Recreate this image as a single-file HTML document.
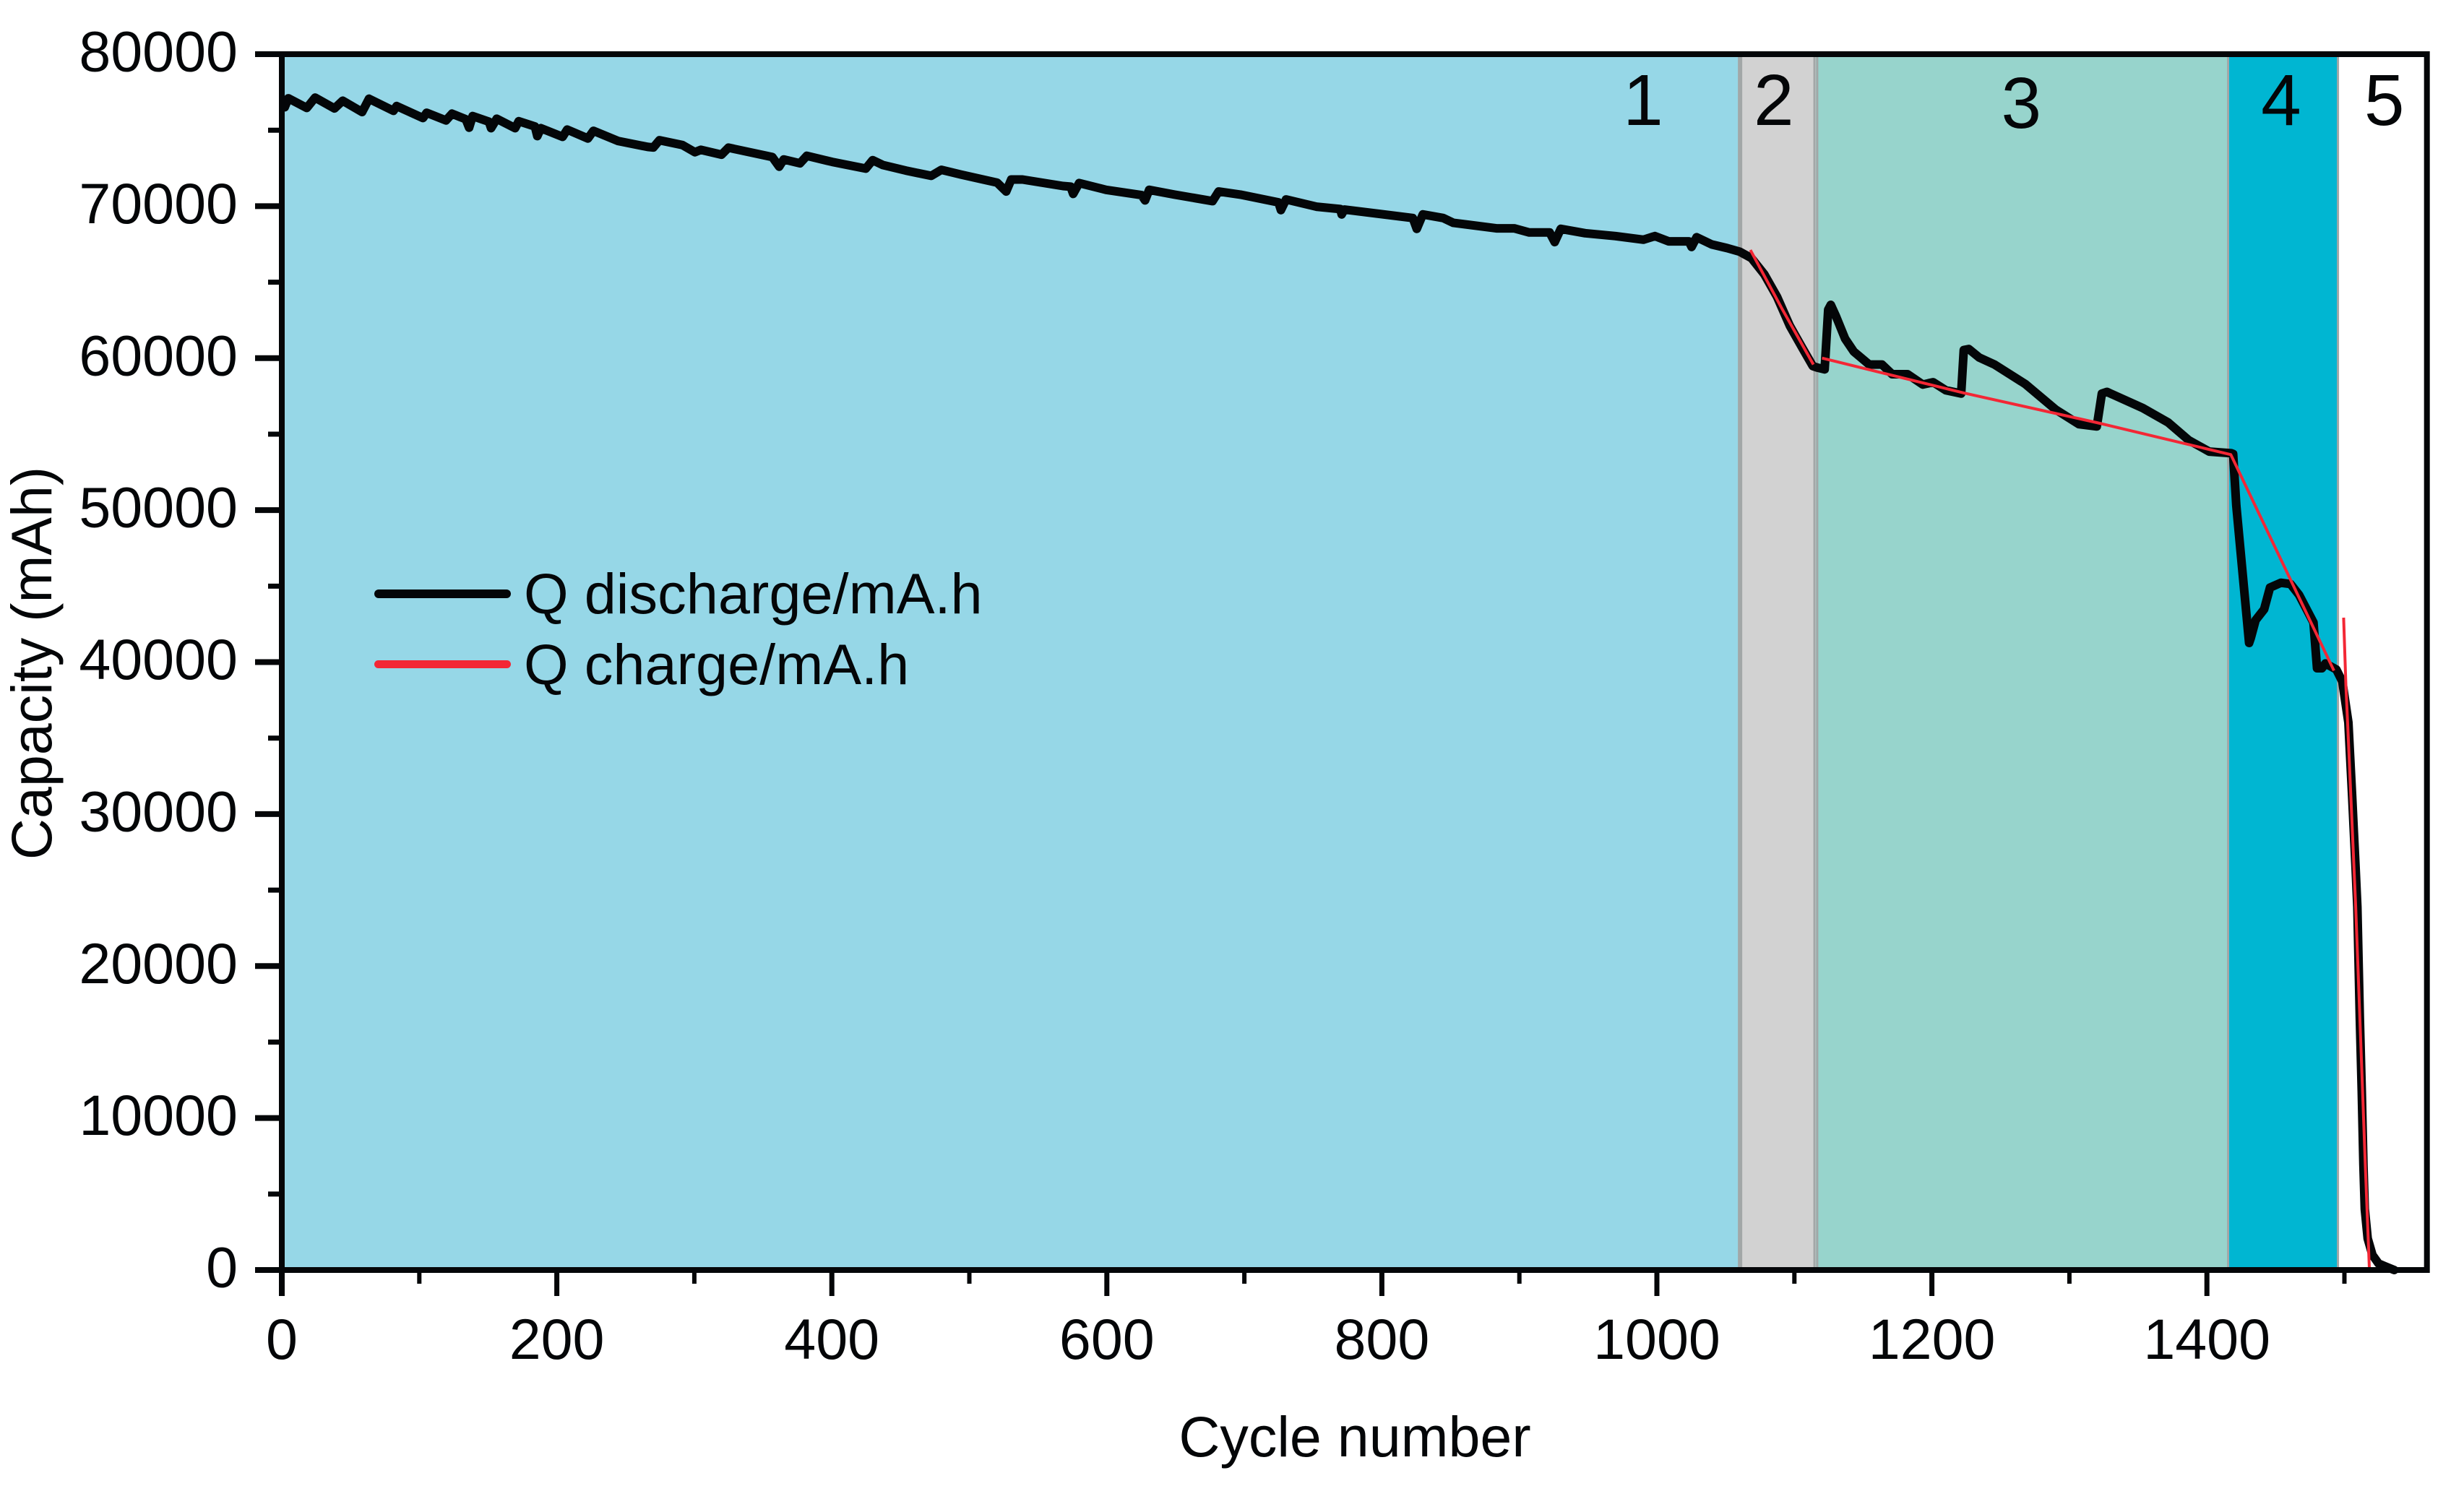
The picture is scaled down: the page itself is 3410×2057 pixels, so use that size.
<!DOCTYPE html>
<html>
<head>
<meta charset="utf-8">
<title>Capacity vs cycle number</title>
<style>
html,body{margin:0;padding:0;background:#fff;}
svg{display:block;}
text{font-family:"Liberation Sans",sans-serif;fill:#040608;}
</style>
</head>
<body>
<svg id="chart" xmlns="http://www.w3.org/2000/svg" width="3410" height="2057" viewBox="0 0 3410 2057">
  <g id="bands"></g>
  <g id="series"></g>
  <g id="axes"></g>
  <g id="region-labels"></g>
  <text x="1875" y="2016" font-size="79" text-anchor="middle">Cycle number</text>
  <text transform="translate(71 918) rotate(-90)" font-size="79" text-anchor="middle">Capacity (mAh)</text>
  <g>
    <line x1="524" y1="822" x2="701" y2="822" stroke="#040608" stroke-width="12" stroke-linecap="round"/>
    <text x="725" y="849" font-size="79.3">Q discharge/mA.h</text>
    <line x1="523.5" y1="919.5" x2="701.5" y2="919.5" stroke="#F32735" stroke-width="11" stroke-linecap="round"/>
    <text x="725" y="947" font-size="79.3">Q charge/mA.h</text>
  </g>
</svg>
<script>
const xMajorTicks = [0, 200, 400, 600, 800, 1000, 1200, 1400];
const xMinorTicks = [100, 300, 500, 700, 900, 1100, 1300, 1500];
const yMajorTicks = [0, 10000, 20000, 30000, 40000, 50000, 60000, 70000, 80000];
const yMinorTicks = [5000, 15000, 25000, 35000, 45000, 55000, 65000, 75000];
const bandEdges = [0, 1060.5, 1115.6, 1415.4, 1495.3];
const bandColors = ['#96D7E7', '#D2D2D2', '#97D4CC', '#00B6D2'];
const borderCycles = [1060.5, 1114.6, 1116.6, 1415.4, 1495.3];
const regionNames = ['1', '2', '3', '4', '5'];
const regionCycles = [990, 1085, 1265, 1454, 1529];

const dischargeCycles = [2.1,4.8,18.2,24.2,38.3,44.3,58.4,63.4,81.2,83.5,102.7,105.3,119.4,123.8,133.8,136.2,138.8,150.6,152.2,156.3,169.7,172.3,184.1,185.8,188.4,204.2,207.5,222.6,226.6,244.4,266.2,270.2,274.6,291.3,300.4,304.7,319.8,324.8,356.7,361.7,365,376.8,381.8,400.2,424.7,429.7,437.1,453.8,472.3,479.6,494,520.2,526.8,530.5,538.6,568.1,573.6,575.5,579.9,599.4,625.2,627.8,630.8,649.2,676.9,681.3,697.1,724.8,726.6,730.3,752.4,769.7,770.8,772.7,822.5,825.4,829.8,844.6,851.9,883.3,896.2,907.2,922,925.7,930.1,947.8,969.9,990.2,998.6,1008.6,1023.3,1025.2,1028.9,1039.9,1051,1060.2,1068.8,1078.1,1087.4,1096.7,1106,1113.4,1117.2,1122,1124.6,1126.5,1130.2,1136.9,1143.2,1154.4,1163.7,1171.1,1182.3,1193.4,1200.9,1210.2,1221.3,1223.2,1226.9,1234.3,1245.5,1267.8,1290.1,1306.9,1319.9,1323.6,1327.3,1353.4,1371.9,1386.9,1401.7,1417.7,1419.1,1421.4,1430.7,1431.9,1435.4,1441.6,1445.9,1453.8,1460.8,1467,1477.5,1480.1,1483.6,1486.2,1494.1,1498.5,1502.9,1505.6,1508.2,1509.4,1511.2,1512.6,1513.8,1514.8,1516.9,1520.4,1524.8,1529.2,1536.2];
const dischargeCapacity = [76510,77096,76463,77144,76431,76938,76193,77065,76273,76589,75797,76146,75639,76083,75718,75164,75924,75560,75132,75750,75132,75591,75243,74609,75132,74562,75037,74451,74958,74293,73897,73865,74340,74023,73548,73707,73390,73849,73231,72598,73073,72819,73310,72914,72471,73025,72709,72344,71996,72392,72075,71549,70963,71755,71755,71327,71280,70805,71518,71074,70726,70377,71074,70757,70330,70963,70757,70250,69743,70440,69965,69807,69459,69775,69221,68508,69458,69221,68904,68540,68540,68270,68270,67637,68508,68223,68033,67795,68033,67684,67684,67320,67954,67478,67241,67003,66582,65521,64036,62126,60640,59473,59367,59260,63187,63505,62762,61277,60428,59579,59579,58943,58943,58264,58413,57882,57670,60535,60598,60046,59579,58306,56608,55654,55506,57670,57776,56714,55760,54593,53850,53744,53694,50288,41259,41576,42764,43477,44902,45219,45140,44427,42606,39596,39596,39912,39516,38724,36028,31178,26328,23903,16628,11778,6928,4018,2078,987,429,259,0];

const chargeCycles = [1068,1091.1,1113.8,null,1120.1,1223.2,1319.9,1371.5,1417.4,1492.4,null,1499.4,1501.1,1502.3,1504.7,1508.2,1511.7,1515.2,1518.2];
const chargeCapacity = [67112,63229,59578,null,60004,57712,55759,54644,53650,39438,null,42922,38408,36028,31178,23903,15416,6928,0];

const SVG_NS = 'http://www.w3.org/2000/svg';
const xScale = v => 390 + v * 1.903;
const yScale = v => 1758 - v * 0.0210375;
const plotLeft = xScale(0);
const plotRight = xScale(1560);
const plotTop = yScale(80000);
const plotBottom = yScale(0);

function make(tag, attrs, parent) {
  const el = document.createElementNS(SVG_NS, tag);
  for (const k in attrs) el.setAttribute(k, attrs[k]);
  parent.appendChild(el);
  return el;
}

const bandsGroup = document.getElementById('bands');
bandColors.forEach((color, i) => {
  const x0 = xScale(bandEdges[i]);
  const x1 = xScale(bandEdges[i + 1]);
  const band = make('rect', {x: x0, y: plotTop, width: x1 - x0, height: plotBottom - plotTop, fill: color}, bandsGroup);
  
  
});
borderCycles.forEach((c, i) => {
  const border = make('line', {x1: xScale(c), x2: xScale(c), y1: plotTop, y2: plotBottom, stroke: '#A2A7A7', 'stroke-width': i === 0 ? 6 : 3}, bandsGroup);
  
  
});

function pathFrom(xs, ys) {
  let d = '';
  let pen = false;
  xs.forEach((x, i) => {
    if (x === null || ys[i] === null) { pen = false; return; }
    d += (pen ? 'L' : 'M') + xScale(x).toFixed(1) + ' ' + yScale(ys[i]).toFixed(1);
    pen = true;
  });
  return d;
}

const seriesGroup = document.getElementById('series');
const dischargeLine = make('path', {d: pathFrom(dischargeCycles, dischargeCapacity), fill: 'none', stroke: '#040608', 'stroke-width': 12, 'stroke-linejoin': 'round', 'stroke-linecap': 'round'}, seriesGroup);


const chargeLine = make('path', {d: pathFrom(chargeCycles, chargeCapacity), fill: 'none', stroke: '#F32735', 'stroke-width': 4, 'stroke-linejoin': 'round'}, seriesGroup);



const axesGroup = document.getElementById('axes');
yMajorTicks.forEach(v => {
  const tick = make('line', {x1: 353, x2: plotLeft, y1: yScale(v), y2: yScale(v), stroke: '#040608', 'stroke-width': 8}, axesGroup);
  
  
  const label = make('text', {x: 329, y: yScale(v) + 23.5, 'font-size': 79, 'text-anchor': 'end'}, axesGroup);
  
  
  label.textContent = String(v);
});
yMinorTicks.forEach(v => {
  const tick = make('line', {x1: 371, x2: plotLeft, y1: yScale(v), y2: yScale(v), stroke: '#040608', 'stroke-width': 7}, axesGroup);
  
  
});
xMajorTicks.forEach(v => {
  const tick = make('line', {x1: xScale(v), x2: xScale(v), y1: plotBottom, y2: 1794, stroke: '#040608', 'stroke-width': v === 0 ? 8 : 7}, axesGroup);
  
  
  const label = make('text', {x: xScale(v), y: 1881, 'font-size': 79, 'text-anchor': 'middle'}, axesGroup);
  
  
  label.textContent = String(v);
});
xMinorTicks.forEach(v => {
  const tick = make('line', {x1: xScale(v), x2: xScale(v), y1: plotBottom, y2: 1777, stroke: '#040608', 'stroke-width': 6}, axesGroup);
  
  
});
const frame = make('rect', {x: plotLeft, y: plotTop, width: plotRight - plotLeft, height: plotBottom - plotTop, fill: 'none', stroke: '#040608', 'stroke-width': 8}, axesGroup);



const labelsGroup = document.getElementById('region-labels');
regionNames.forEach((name, i) => {
  const label = make('text', {x: xScale(regionCycles[i]), y: i === 2 ? 177 : 173, 'font-size': 100, 'text-anchor': 'middle'}, labelsGroup);
  
  
  label.textContent = name;
});
</script>
</body>
</html>
